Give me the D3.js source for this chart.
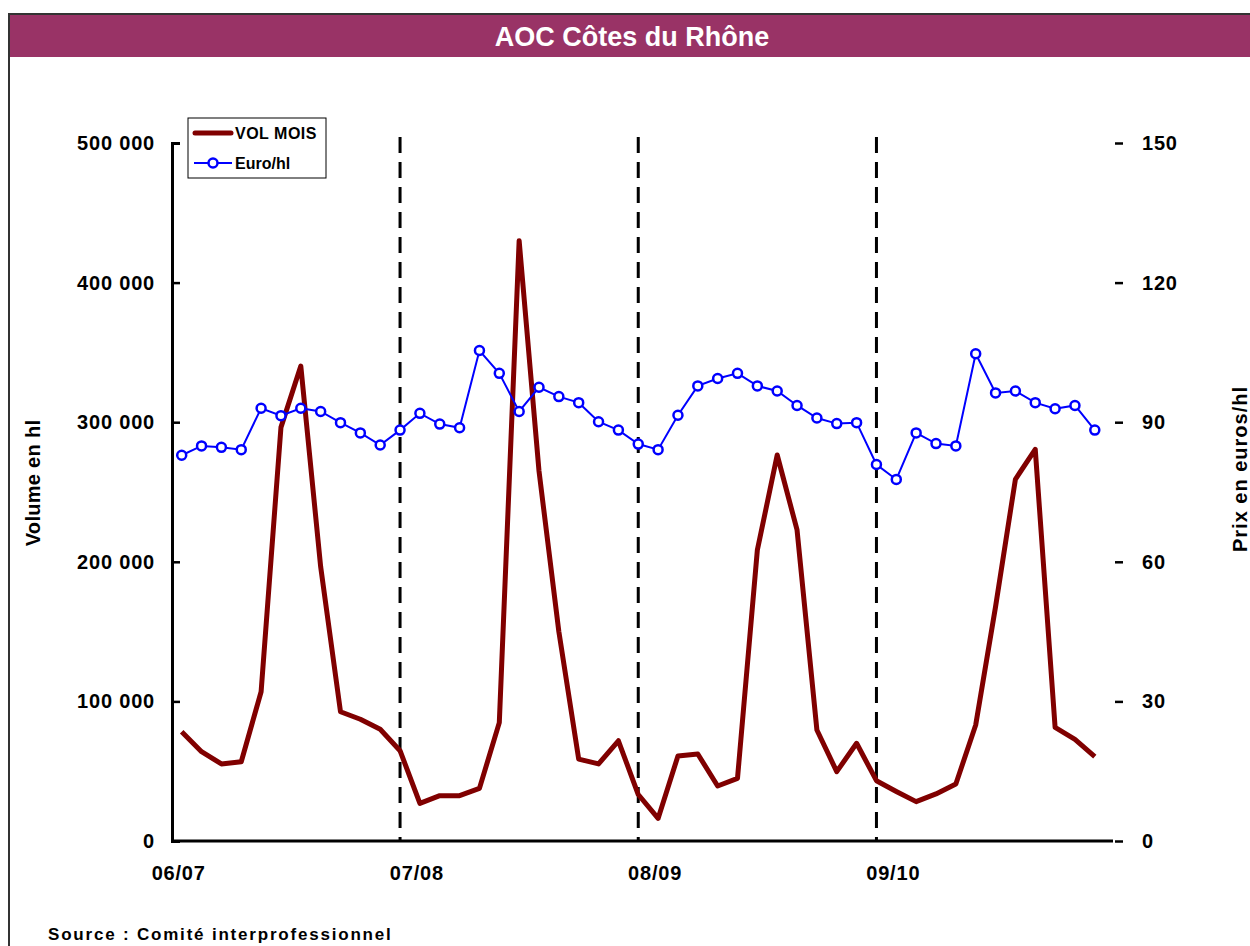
<!DOCTYPE html>
<html>
<head>
<meta charset="utf-8">
<script src="https://cdn.jsdelivr.net/npm/d3@7"></script>
<style>
  html, body { margin: 0; padding: 0; background: #fff; }
  svg { display: block; }
  text { font-family: "Liberation Sans", Arial, sans-serif; font-weight: bold; }
</style>
</head>
<body>
<script>
// Monthly volumes (hl) and average price (euro/hl), campaigns 2006/07 to 2009/10
const volMois = [78300, 64000, 55200, 56800, 106900, 296300, 340200, 196500, 92600, 87200, 80000, 64700,
                 27000, 32500, 32500, 37700, 84800, 430000, 265000, 150000, 58700, 55200, 71800, 33300,
                 16200, 60900, 62300, 39400, 44900, 208400, 276500, 222800, 79500, 49700, 70000, 43200,
                 35500, 28200, 33700, 40800, 83100, 167800, 259100, 280600, 81400, 72800, 60400];
const euroHl = [82.9, 84.9, 84.6, 84.1, 93.0, 91.4, 93.0, 92.3, 89.9, 87.7, 85.1, 88.3,
                91.9, 89.6, 88.8, 105.4, 100.5, 92.3, 97.5, 95.5, 94.2, 90.1, 88.3, 85.3,
                84.1, 91.5, 97.8, 99.4, 100.5, 97.8, 96.7, 93.6, 90.9, 89.7, 89.9, 80.9,
                77.7, 87.7, 85.4, 84.9, 104.7, 96.3, 96.7, 94.2, 92.9, 93.6, 88.3];
const campaignLabels = ["06/07", "07/08", "08/09", "09/10"];
const campaignStart = [0, 12, 24, 36];
const campaignBreaks = [11, 23, 35];
const volTicks = [0, 100000, 200000, 300000, 400000, 500000];
const priceTicks = [0, 30, 60, 90, 120, 150];

const W = 1250, H = 946;
const plot = { left: 172, right: 1113, top: 143, bottom: 841 };

const svg = d3.select("body").append("svg").attr("width", W).attr("height", H);
svg.append("rect").attr("width", W).attr("height", H).attr("fill", "#fff");

// Outer frame and title band
svg.append("rect").attr("x", 9).attr("y", 14).attr("width", 1400).attr("height", 1100)
  .attr("fill", "none").attr("stroke", "#333").attr("stroke-width", 2);
svg.append("rect").attr("x", 10).attr("y", 15).attr("width", 1300).attr("height", 42)
  .attr("fill", "#993366");
svg.append("text").attr("x", 632).attr("y", 46).attr("text-anchor", "middle")
  .attr("fill", "#fff").attr("font-size", 27).text("AOC Côtes du Rhône");

// Scales
const x = d3.scaleLinear().domain([0, volMois.length - 1]).range([181.7, 1094.8]);
const yVol = d3.scaleLinear().domain([0, 500000]).range([plot.bottom, plot.top]);
const yPrice = d3.scaleLinear().domain([0, 150]).range([plot.bottom, plot.top]);

const fmt = v => d3.format(",")(v).replace(/,/g, " ");

// Left axis
const gL = svg.append("g").attr("transform", `translate(${plot.left},0)`)
  .call(d3.axisLeft(yVol).tickValues(volTicks).tickSize(-8).tickPadding(0).tickFormat(fmt));
gL.select(".domain").attr("stroke", "#000").attr("stroke-width", 3);
gL.selectAll(".tick line").attr("stroke", "#000").attr("stroke-width", 2.5);
gL.selectAll(".tick text").attr("x", -17).attr("font-size", 20).attr("fill", "#000")
  .attr("font-family", "Liberation Sans, Arial, sans-serif").attr("font-weight", "bold")
  .attr("letter-spacing", 0.8);

// Right axis (ticks only)
const gR = svg.append("g").attr("transform", `translate(${plot.right},0)`)
  .call(d3.axisRight(yPrice).tickValues(priceTicks).tickSize(10).tickPadding(0));
gR.select(".domain").remove();
gR.selectAll(".tick line").attr("x1", 2).attr("stroke", "#000").attr("stroke-width", 2.5);
gR.selectAll(".tick text").attr("x", 29).attr("font-size", 20).attr("fill", "#000")
  .attr("font-family", "Liberation Sans, Arial, sans-serif").attr("font-weight", "bold")
  .attr("letter-spacing", 0.8);

// Bottom axis line
svg.append("line").attr("x1", plot.left).attr("x2", plot.right)
  .attr("y1", plot.bottom).attr("y2", plot.bottom)
  .attr("stroke", "#000").attr("stroke-width", 3);

// Campaign labels
svg.append("g").selectAll("text").data(campaignLabels).join("text")
  .attr("x", (d, i) => x(campaignStart[i]) - 3).attr("y", 880)
  .attr("text-anchor", "middle").attr("font-size", 20).attr("letter-spacing", 0.8)
  .text(d => d);

// Campaign separators
svg.append("g").selectAll("line").data(campaignBreaks).join("line")
  .attr("x1", d => x(d)).attr("x2", d => x(d))
  .attr("y1", 137).attr("y2", plot.bottom)
  .attr("stroke", "#000").attr("stroke-width", 3).attr("stroke-dasharray", "16,9");

// Axis titles
svg.append("text").attr("transform", "translate(40,483) rotate(-90)")
  .attr("text-anchor", "middle").attr("font-size", 20).attr("letter-spacing", 0.3)
  .text("Volume en hl");
svg.append("text").attr("transform", "translate(1247,469) rotate(-90)")
  .attr("text-anchor", "middle").attr("font-size", 20).attr("letter-spacing", 1)
  .text("Prix en euros/hl");

// Volume line
svg.append("path").datum(volMois)
  .attr("fill", "none").attr("stroke", "#800000").attr("stroke-width", 5)
  .attr("stroke-linejoin", "round")
  .attr("d", d3.line().x((d, i) => x(i)).y(d => yVol(d)));

// Price line with markers
svg.append("path").datum(euroHl)
  .attr("fill", "none").attr("stroke", "#0000ff").attr("stroke-width", 2)
  .attr("d", d3.line().x((d, i) => x(i)).y(d => yPrice(d)));
svg.append("g").selectAll("circle").data(euroHl).join("circle")
  .attr("cx", (d, i) => x(i)).attr("cy", d => yPrice(d)).attr("r", 4.5)
  .attr("fill", "#fff").attr("stroke", "#0000ff").attr("stroke-width", 2.5);

// Legend
const lg = svg.append("g");
lg.append("rect").attr("x", 188).attr("y", 118).attr("width", 138).attr("height", 60)
  .attr("fill", "#fff").attr("stroke", "#000").attr("stroke-width", 1);
lg.append("line").attr("x1", 195).attr("x2", 231).attr("y1", 133).attr("y2", 133)
  .attr("stroke", "#800000").attr("stroke-width", 5).attr("stroke-linecap", "round");
lg.append("text").attr("x", 235).attr("y", 139).attr("font-size", 16).attr("letter-spacing", 0.5)
  .text("VOL MOIS");
lg.append("line").attr("x1", 194).attr("x2", 232).attr("y1", 163).attr("y2", 163)
  .attr("stroke", "#0000ff").attr("stroke-width", 2);
lg.append("circle").attr("cx", 213).attr("cy", 163).attr("r", 4.5)
  .attr("fill", "#fff").attr("stroke", "#0000ff").attr("stroke-width", 2.5);
lg.append("text").attr("x", 235).attr("y", 169).attr("font-size", 16)
  .text("Euro/hl");

// Source note
svg.append("text").attr("x", 48).attr("y", 940).attr("font-size", 17).attr("letter-spacing", 1.8)
  .text("Source : Comité interprofessionnel");
</script>
</body>
</html>
